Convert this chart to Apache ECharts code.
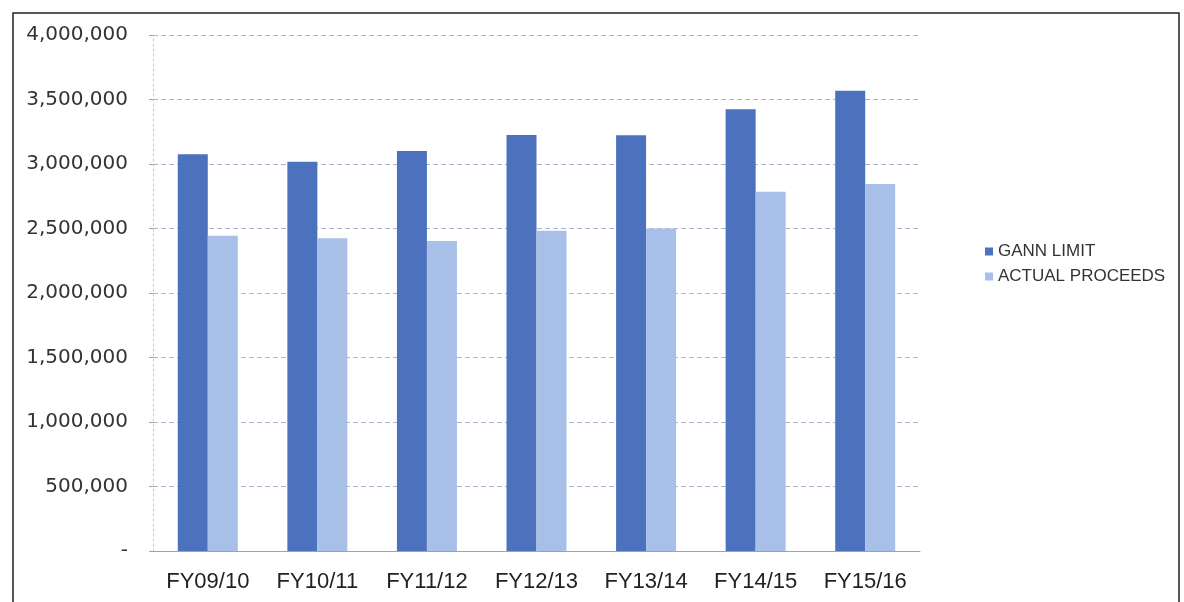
<!DOCTYPE html>
<html>
<head>
<meta charset="utf-8">
<script src="https://cdn.jsdelivr.net/npm/echarts@6/dist/echarts.min.js"></script>
<style>
  html, body { margin: 0; padding: 0; background: #fff; }
  #container { width: 1184px; height: 602px; }
</style>
</head>
<body>
<div id="container"></div>
<script>
  // data
  var years = ['FY09/10', 'FY10/11', 'FY11/12', 'FY12/13', 'FY13/14', 'FY14/15', 'FY15/16'];
  var gannLimit = [3075000, 3018000, 3100000, 3225000, 3222000, 3424000, 3568000];
  var actualProceeds = [2444000, 2424000, 2403000, 2483000, 2500000, 2785000, 2845000];
  var yTicks = [0, 500000, 1000000, 1500000, 2000000, 2500000, 3000000, 3500000, 4000000];

  var dom = document.getElementById("container");
  var myChart = echarts.init(dom);

  var option = {
      animation: false,
      backgroundColor: '#fff',

      // outer frame of the scanned page
      graphic: [{
          type: 'rect',
          shape: { x: 13, y: 13, width: 1166, height: 600 },
          style: { fill: 'none', stroke: '#222', lineWidth: 1.5 },
          silent: true
      }],

      legend: {
          orient: 'vertical',
          left: 980,
          top: 238,
          itemWidth: 8,
          itemHeight: 8,
          itemGap: 8,
          icon: 'rect',
          textStyle: { fontFamily: 'Liberation Sans', fontSize: 17, color: '#333' },
          data: ['GANN LIMIT', 'ACTUAL PROCEEDS']
      },

      grid: { left: 153, right: 264, top: 35, bottom: 51 },

      //x轴设置
      xAxis: {
          type: 'category',
          data: years,
          axisLine: { lineStyle: { color: '#9aa3b5', width: 1 } },
          axisTick: { show: false },
          axisLabel: { fontFamily: 'Liberation Sans', fontSize: 22, color: '#222', margin: 20 }
      },
      yAxis: {
          type: 'value',
          min: 0,
          max: 4000000,
          interval: 500000,
          axisLine: { show: true, lineStyle: { color: '#c3c8d3', type: [2, 3] } },
          axisTick: { show: true, length: 4, lineStyle: { color: '#9aa3b5' } },
          splitLine: { lineStyle: { color: '#aab4cc', type: [5, 3], width: 1 } },
          axisLabel: {
              fontFamily: 'DejaVu Sans',
              fontSize: 20,
              color: '#333',
              margin: 25,
              formatter: function (v) {
                  if (yTicks.indexOf(v) < 0) return '';
                  return v === 0 ? '-' : v.toLocaleString('en-US');
              }
          }
      },

      series: [
          {
              name: 'GANN LIMIT',
              type: 'bar',
              data: gannLimit,
              barWidth: 30,
              barGap: '0%',
              itemStyle: { color: '#4d72bd' }
          },
          {
              name: 'ACTUAL PROCEEDS',
              type: 'bar',
              data: actualProceeds,
              barWidth: 30,
              itemStyle: { color: '#a8bfe8' }
          }
      ]
  };

  if (option && typeof option === "object") {
      myChart.setOption(option, true);
  }
</script>
</body>
</html>
